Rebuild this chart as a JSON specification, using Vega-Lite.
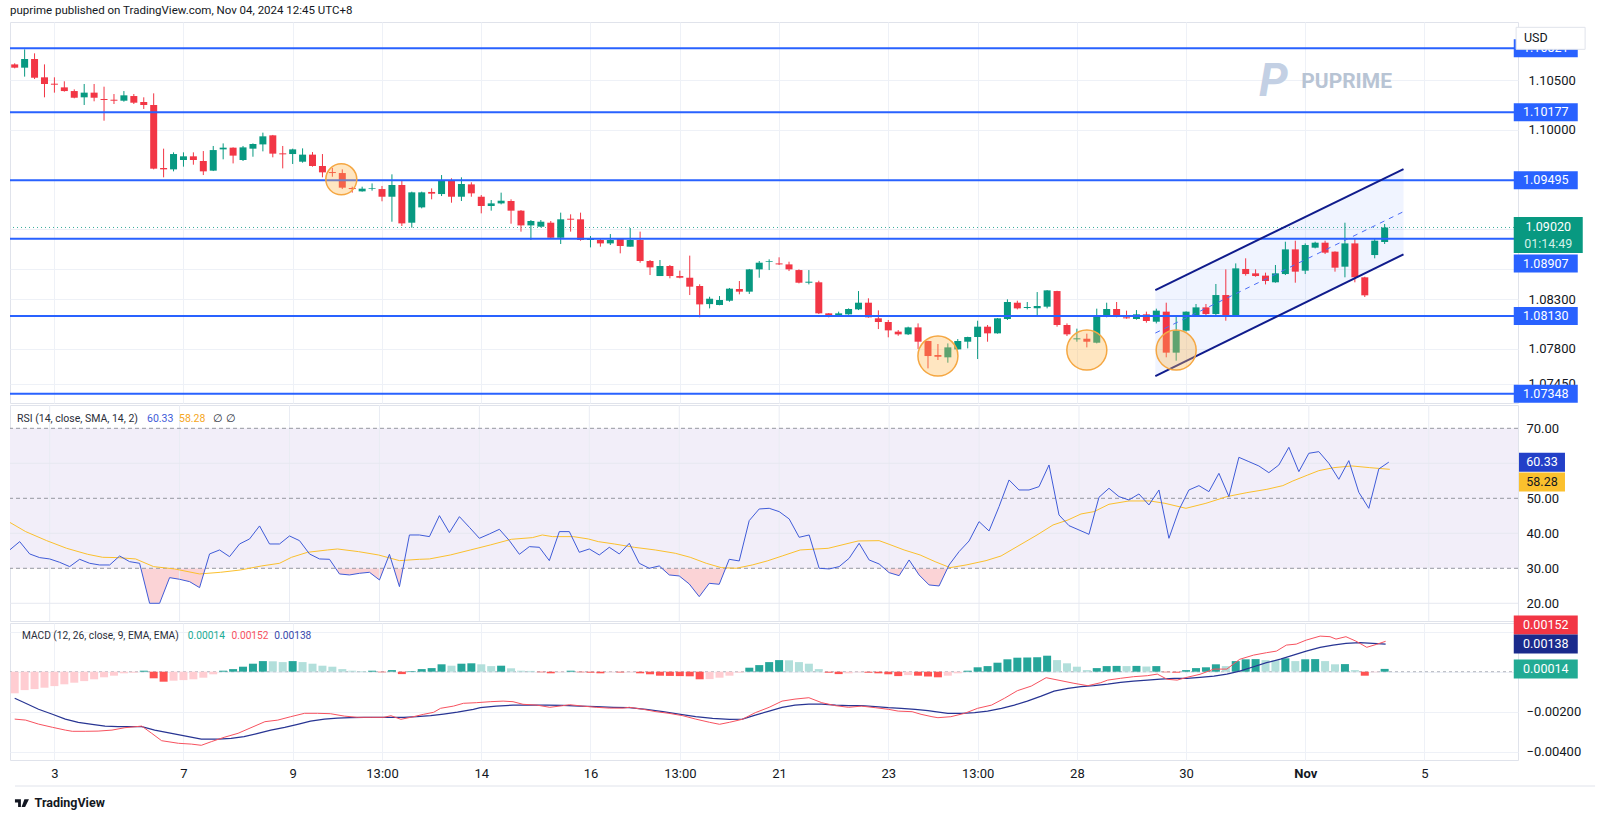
{
"$schema":"https://vega.github.io/schema/vega-lite/v6.json",
"background":"white",
"padding":{"left":8,"top":5,"right":0,"bottom":0},
"bounds":"flush",
"spacing":2,
"title":{"text":"puprime published on TradingView.com, Nov 04, 2024 12:45 UTC+8","anchor":"start","frame":"group","offset":5,"fontSize":11.5,"fontWeight":"normal","color":"#131722","font":"Roboto"},
"config":{"view":{"stroke":"#e0e3eb","strokeWidth":1},"font":"Roboto","axis":{"labelColor":"#131722","labelFont":"Roboto","labelFontSize":13,"gridColor":"#eef1f7","labelFlush":false,"labelOverlap":false,"labelBound":false},"text":{"font":"Roboto"}},
"datasets":{
"candles":[
{"k":0,"o":1.10659,"h":1.1067,"l":1.10619,"c":1.10626},
{"k":1,"o":1.10626,"h":1.1081,"l":1.10536,"c":1.10713},
{"k":2,"o":1.10713,"h":1.1077,"l":1.10512,"c":1.10525},
{"k":3,"o":1.10529,"h":1.10659,"l":1.10328,"c":1.10462},
{"k":4,"o":1.10465,"h":1.10529,"l":1.10375,"c":1.10455},
{"k":5,"o":1.10428,"h":1.10489,"l":1.10385,"c":1.10391},
{"k":6,"o":1.10391,"h":1.10408,"l":1.10318,"c":1.10324},
{"k":7,"o":1.10328,"h":1.10462,"l":1.10251,"c":1.10375},
{"k":8,"o":1.10375,"h":1.10462,"l":1.10288,"c":1.10324},
{"k":9,"o":1.10311,"h":1.10435,"l":1.10093,"c":1.10301},
{"k":10,"o":1.10304,"h":1.10361,"l":1.10261,"c":1.10294},
{"k":11,"o":1.10294,"h":1.10391,"l":1.10284,"c":1.10348},
{"k":12,"o":1.10341,"h":1.10361,"l":1.10261,"c":1.10274},
{"k":13,"o":1.10281,"h":1.10328,"l":1.10211,"c":1.10251},
{"k":14,"o":1.10251,"h":1.10368,"l":1.09604,"c":1.09611},
{"k":15,"o":1.09618,"h":1.09812,"l":1.09524,"c":1.09604},
{"k":16,"o":1.09604,"h":1.09775,"l":1.09584,"c":1.09758},
{"k":17,"o":1.09698,"h":1.09775,"l":1.09631,"c":1.09735},
{"k":18,"o":1.09735,"h":1.09775,"l":1.09651,"c":1.09698},
{"k":19,"o":1.09688,"h":1.09788,"l":1.09547,"c":1.09584},
{"k":20,"o":1.09591,"h":1.09839,"l":1.09587,"c":1.09798},
{"k":21,"o":1.09805,"h":1.09865,"l":1.09705,"c":1.09822},
{"k":22,"o":1.09822,"h":1.09825,"l":1.09664,"c":1.09742},
{"k":23,"o":1.09698,"h":1.09839,"l":1.09688,"c":1.09825},
{"k":24,"o":1.09812,"h":1.09865,"l":1.09731,"c":1.09859},
{"k":25,"o":1.09855,"h":1.09973,"l":1.09785,"c":1.09936},
{"k":26,"o":1.09946,"h":1.0995,"l":1.09725,"c":1.09762},
{"k":27,"o":1.09765,"h":1.09839,"l":1.09614,"c":1.09755},
{"k":28,"o":1.09758,"h":1.09812,"l":1.09658,"c":1.09805},
{"k":29,"o":1.09681,"h":1.09815,"l":1.09671,"c":1.09752},
{"k":30,"o":1.09752,"h":1.09778,"l":1.09631,"c":1.09638},
{"k":31,"o":1.09638,"h":1.09758,"l":1.09524,"c":1.09574},
{"k":32,"o":1.09577,"h":1.09618,"l":1.0953,"c":1.09567},
{"k":33,"o":1.09567,"h":1.09604,"l":1.09406,"c":1.0942},
{"k":34,"o":1.09417,"h":1.0943,"l":1.0937,"c":1.09406},
{"k":35,"o":1.09383,"h":1.0943,"l":1.0938,"c":1.0941},
{"k":36,"o":1.0941,"h":1.09463,"l":1.0939,"c":1.09417},
{"k":37,"o":1.09406,"h":1.09437,"l":1.09283,"c":1.09329},
{"k":38,"o":1.09329,"h":1.09554,"l":1.09078,"c":1.09447},
{"k":39,"o":1.09447,"h":1.09497,"l":1.09035,"c":1.09061},
{"k":40,"o":1.09068,"h":1.0938,"l":1.09018,"c":1.09373},
{"k":41,"o":1.09222,"h":1.0938,"l":1.09212,"c":1.09373},
{"k":42,"o":1.09377,"h":1.09413,"l":1.09303,"c":1.0936},
{"k":43,"o":1.09356,"h":1.09547,"l":1.09336,"c":1.09497},
{"k":44,"o":1.0949,"h":1.09514,"l":1.09269,"c":1.09329},
{"k":45,"o":1.09329,"h":1.09524,"l":1.09286,"c":1.09457},
{"k":46,"o":1.09453,"h":1.09474,"l":1.09329,"c":1.09363},
{"k":47,"o":1.09329,"h":1.09346,"l":1.09162,"c":1.09236},
{"k":48,"o":1.09236,"h":1.09296,"l":1.09189,"c":1.09262},
{"k":49,"o":1.09262,"h":1.0937,"l":1.09252,"c":1.09289},
{"k":50,"o":1.09286,"h":1.09303,"l":1.09058,"c":1.09189},
{"k":51,"o":1.09189,"h":1.09195,"l":1.08978,"c":1.09041},
{"k":52,"o":1.09041,"h":1.09095,"l":1.08894,"c":1.09085},
{"k":53,"o":1.09028,"h":1.09095,"l":1.09021,"c":1.09078},
{"k":54,"o":1.09068,"h":1.09085,"l":1.08912,"c":1.08917},
{"k":55,"o":1.08917,"h":1.09169,"l":1.08854,"c":1.09102},
{"k":56,"o":1.09108,"h":1.09152,"l":1.08978,"c":1.09098},
{"k":57,"o":1.09102,"h":1.09169,"l":1.08887,"c":1.08894},
{"k":58,"o":1.08894,"h":1.08934,"l":1.0882,"c":1.08907},
{"k":59,"o":1.08894,"h":1.08911,"l":1.08827,"c":1.0886},
{"k":60,"o":1.0886,"h":1.08954,"l":1.08844,"c":1.08894},
{"k":61,"o":1.08904,"h":1.08911,"l":1.0876,"c":1.08834},
{"k":62,"o":1.08827,"h":1.09015,"l":1.08827,"c":1.08894},
{"k":63,"o":1.08894,"h":1.08978,"l":1.08666,"c":1.08683},
{"k":64,"o":1.08683,"h":1.08693,"l":1.08542,"c":1.08619},
{"k":65,"o":1.08532,"h":1.08693,"l":1.08532,"c":1.08633},
{"k":66,"o":1.08633,"h":1.08643,"l":1.08509,"c":1.08532},
{"k":67,"o":1.08532,"h":1.08586,"l":1.08509,"c":1.08515},
{"k":68,"o":1.08515,"h":1.08737,"l":1.08341,"c":1.08425},
{"k":69,"o":1.08432,"h":1.08449,"l":1.08117,"c":1.08247},
{"k":70,"o":1.0825,"h":1.08324,"l":1.08207,"c":1.08304},
{"k":71,"o":1.08241,"h":1.08331,"l":1.08238,"c":1.08291},
{"k":72,"o":1.08284,"h":1.08412,"l":1.08274,"c":1.08405},
{"k":73,"o":1.08402,"h":1.08482,"l":1.08348,"c":1.08375},
{"k":74,"o":1.08375,"h":1.08603,"l":1.08352,"c":1.08599},
{"k":75,"o":1.08599,"h":1.08683,"l":1.08515,"c":1.08666},
{"k":76,"o":1.08676,"h":1.087,"l":1.08592,"c":1.08683},
{"k":77,"o":1.08659,"h":1.0872,"l":1.08643,"c":1.08649},
{"k":78,"o":1.08649,"h":1.08676,"l":1.08582,"c":1.08599},
{"k":79,"o":1.08592,"h":1.08599,"l":1.08458,"c":1.08465},
{"k":80,"o":1.08465,"h":1.08592,"l":1.08448,"c":1.08475},
{"k":81,"o":1.08469,"h":1.08485,"l":1.0815,"c":1.08157},
{"k":82,"o":1.08157,"h":1.0816,"l":1.08117,"c":1.0814},
{"k":83,"o":1.08134,"h":1.08174,"l":1.0813,"c":1.08157},
{"k":84,"o":1.08147,"h":1.08207,"l":1.08143,"c":1.08201},
{"k":85,"o":1.08197,"h":1.08381,"l":1.0819,"c":1.08264},
{"k":86,"o":1.08264,"h":1.08308,"l":1.08114,"c":1.08117},
{"k":87,"o":1.08107,"h":1.08187,"l":1.07999,"c":1.0807},
{"k":88,"o":1.0807,"h":1.0809,"l":1.07916,"c":1.07986},
{"k":89,"o":1.07973,"h":1.07989,"l":1.07932,"c":1.07946},
{"k":90,"o":1.07946,"h":1.08023,"l":1.07939,"c":1.08016},
{"k":91,"o":1.08016,"h":1.08056,"l":1.07799,"c":1.07872},
{"k":92,"o":1.07879,"h":1.07882,"l":1.07604,"c":1.07728},
{"k":93,"o":1.07738,"h":1.07849,"l":1.07688,"c":1.07721},
{"k":94,"o":1.07715,"h":1.07855,"l":1.07661,"c":1.07815},
{"k":95,"o":1.07795,"h":1.07899,"l":1.07792,"c":1.07879},
{"k":96,"o":1.07872,"h":1.07922,"l":1.07805,"c":1.07919},
{"k":97,"o":1.07919,"h":1.08083,"l":1.07698,"c":1.08023},
{"k":98,"o":1.08023,"h":1.0804,"l":1.07872,"c":1.07956},
{"k":99,"o":1.07956,"h":1.0811,"l":1.07953,"c":1.08107},
{"k":100,"o":1.081,"h":1.08298,"l":1.0809,"c":1.08271},
{"k":101,"o":1.08264,"h":1.08284,"l":1.08197,"c":1.08207},
{"k":102,"o":1.08211,"h":1.08271,"l":1.08197,"c":1.08221},
{"k":103,"o":1.08207,"h":1.08371,"l":1.0813,"c":1.08231},
{"k":104,"o":1.08224,"h":1.08391,"l":1.08207,"c":1.08388},
{"k":105,"o":1.08381,"h":1.08384,"l":1.08023,"c":1.0804},
{"k":106,"o":1.0804,"h":1.08056,"l":1.07929,"c":1.07946},
{"k":107,"o":1.07896,"h":1.08003,"l":1.07872,"c":1.07906},
{"k":108,"o":1.07902,"h":1.07953,"l":1.07815,"c":1.07872},
{"k":109,"o":1.07862,"h":1.08204,"l":1.07855,"c":1.08123},
{"k":110,"o":1.08123,"h":1.08264,"l":1.08117,"c":1.08201},
{"k":111,"o":1.08201,"h":1.08271,"l":1.08117,"c":1.08134},
{"k":112,"o":1.08117,"h":1.08184,"l":1.08103,"c":1.08107},
{"k":113,"o":1.081,"h":1.0819,"l":1.08093,"c":1.08147},
{"k":114,"o":1.08147,"h":1.08174,"l":1.08063,"c":1.0808},
{"k":115,"o":1.08073,"h":1.08204,"l":1.08056,"c":1.08184},
{"k":116,"o":1.08174,"h":1.08264,"l":1.07715,"c":1.07762},
{"k":117,"o":1.07762,"h":1.08123,"l":1.07681,"c":1.07983},
{"k":118,"o":1.07983,"h":1.08177,"l":1.07973,"c":1.08174},
{"k":119,"o":1.0813,"h":1.08251,"l":1.08123,"c":1.08217},
{"k":120,"o":1.08217,"h":1.08251,"l":1.0814,"c":1.0815},
{"k":121,"o":1.0815,"h":1.08452,"l":1.08123,"c":1.08341},
{"k":122,"o":1.08341,"h":1.08599,"l":1.08083,"c":1.0813},
{"k":123,"o":1.0813,"h":1.08659,"l":1.08123,"c":1.08609},
{"k":124,"o":1.08603,"h":1.0871,"l":1.08536,"c":1.08552},
{"k":125,"o":1.08559,"h":1.08599,"l":1.08525,"c":1.08532},
{"k":126,"o":1.08536,"h":1.08566,"l":1.08448,"c":1.08482},
{"k":127,"o":1.08469,"h":1.08643,"l":1.08465,"c":1.08559},
{"k":128,"o":1.08552,"h":1.08877,"l":1.08542,"c":1.088},
{"k":129,"o":1.088,"h":1.08887,"l":1.08465,"c":1.08576},
{"k":130,"o":1.08586,"h":1.0886,"l":1.08552,"c":1.08844},
{"k":131,"o":1.08817,"h":1.08877,"l":1.0881,"c":1.08867},
{"k":132,"o":1.08867,"h":1.08887,"l":1.08753,"c":1.08767},
{"k":133,"o":1.08777,"h":1.0878,"l":1.08576,"c":1.08616},
{"k":134,"o":1.08626,"h":1.09068,"l":1.08519,"c":1.0886},
{"k":135,"o":1.0886,"h":1.08911,"l":1.08469,"c":1.08519},
{"k":136,"o":1.08519,"h":1.08525,"l":1.08321,"c":1.08338},
{"k":137,"o":1.08743,"h":1.08911,"l":1.0871,"c":1.08887},
{"k":138,"o":1.08874,"h":1.09055,"l":1.08854,"c":1.0902}
],
"rsi":[
{"k":0,"v":35.24},{"k":1,"v":37.62},{"k":2,"v":34.1},{"k":3,"v":33.05},{"k":4,"v":32.67},{"k":5,"v":31.71},{"k":6,"v":30.48},{"k":7,"v":32.57},{"k":8,"v":31.43},{"k":9,"v":30.95},
{"k":10,"v":30.95},{"k":11,"v":33.52},{"k":12,"v":31.9},{"k":13,"v":31.43},{"k":14,"v":20.0},{"k":15,"v":20.0},{"k":16,"v":27.33},{"k":17,"v":26.86},{"k":18,"v":26.19},{"k":19,"v":24.48},
{"k":20,"v":34.1},{"k":21,"v":35.24},{"k":22,"v":33.33},{"k":23,"v":36.95},{"k":24,"v":38.38},{"k":25,"v":42.1},{"k":26,"v":36.95},{"k":27,"v":36.95},{"k":28,"v":39.24},{"k":29,"v":37.9},
{"k":30,"v":34.1},{"k":31,"v":32.67},{"k":32,"v":32.57},{"k":33,"v":28.38},{"k":34,"v":28.1},{"k":35,"v":28.57},{"k":36,"v":28.86},{"k":37,"v":26.67},{"k":38,"v":34.0},{"k":39,"v":24.76},
{"k":40,"v":39.52},{"k":41,"v":39.52},{"k":42,"v":39.05},{"k":43,"v":45.05},{"k":44,"v":40.19},{"k":45,"v":44.76},{"k":46,"v":41.71},{"k":47,"v":38.57},{"k":48,"v":39.81},{"k":49,"v":41.14},
{"k":50,"v":37.9},{"k":51,"v":34.0},{"k":52,"v":36.19},{"k":53,"v":36.0},{"k":54,"v":32.19},{"k":55,"v":40.48},{"k":56,"v":40.48},{"k":57,"v":34.57},{"k":58,"v":35.52},{"k":59,"v":33.81},
{"k":60,"v":36.0},{"k":61,"v":34.1},{"k":62,"v":37.14},{"k":63,"v":31.43},{"k":64,"v":30.0},{"k":65,"v":30.67},{"k":66,"v":28.1},{"k":67,"v":27.81},{"k":68,"v":25.52},{"k":69,"v":21.9},
{"k":70,"v":25.71},{"k":71,"v":25.43},{"k":72,"v":32.57},{"k":73,"v":32.1},{"k":74,"v":43.62},{"k":75,"v":46.95},{"k":76,"v":47.14},{"k":77,"v":46.19},{"k":78,"v":44.1},{"k":79,"v":38.86},
{"k":80,"v":39.52},{"k":81,"v":30.0},{"k":82,"v":29.81},{"k":83,"v":30.48},{"k":84,"v":32.86},{"k":85,"v":37.14},{"k":86,"v":32.38},{"k":87,"v":31.24},{"k":88,"v":28.76},{"k":89,"v":27.9},
{"k":90,"v":32.38},{"k":91,"v":28.1},{"k":92,"v":25.24},{"k":93,"v":24.95},{"k":94,"v":30.95},{"k":95,"v":34.76},{"k":96,"v":37.81},{"k":97,"v":43.33},{"k":98,"v":40.67},{"k":99,"v":47.62},
{"k":100,"v":55.24},{"k":101,"v":52.38},{"k":102,"v":52.38},{"k":103,"v":53.33},{"k":104,"v":59.52},{"k":105,"v":45.24},{"k":106,"v":42.19},{"k":107,"v":40.95},{"k":108,"v":39.71},{"k":109,"v":50.29},
{"k":110,"v":52.86},{"k":111,"v":50.48},{"k":112,"v":49.52},{"k":113,"v":51.24},{"k":114,"v":48.1},{"k":115,"v":52.38},{"k":116,"v":38.57},{"k":117,"v":46.67},{"k":118,"v":52.38},{"k":119,"v":53.62},
{"k":120,"v":51.9},{"k":121,"v":57.14},{"k":122,"v":50.48},{"k":123,"v":61.71},{"k":124,"v":60.48},{"k":125,"v":59.24},{"k":126,"v":57.33},{"k":127,"v":59.52},{"k":128,"v":64.57},{"k":129,"v":57.62},
{"k":130,"v":62.86},{"k":131,"v":63.33},{"k":132,"v":60.0},{"k":133,"v":55.43},{"k":134,"v":60.76},{"k":135,"v":51.71},{"k":136,"v":47.14},{"k":137,"v":58.38},{"k":138,"v":60.33}
],
"rsisma":[
{"k":0,"v":43.14},{"k":1.6,"v":40.48},{"k":3.7,"v":37.9},{"k":5.7,"v":35.71},{"k":7.8,"v":34.0},{"k":9.3,"v":33.14},{"k":10.8,"v":33.05},{"k":12.6,"v":32.67},{"k":14.4,"v":30.48},{"k":16.5,"v":29.81},
{"k":19.0,"v":28.38},{"k":21.1,"v":28.86},{"k":23.1,"v":29.52},{"k":25.2,"v":30.67},{"k":27.0,"v":31.43},{"k":28.2,"v":33.14},{"k":29.8,"v":34.57},{"k":31.8,"v":35.24},{"k":32.8,"v":35.52},{"k":34.9,"v":34.76},
{"k":36.9,"v":33.81},{"k":39.0,"v":32.19},{"k":41.0,"v":32.57},{"k":42.0,"v":32.67},{"k":44.1,"v":33.81},{"k":46.1,"v":35.24},{"k":48.1,"v":36.67},{"k":50.2,"v":38.29},{"k":52.3,"v":38.76},{"k":53.3,"v":39.52},
{"k":54.3,"v":39.05},{"k":56.4,"v":39.05},{"k":57.9,"v":38.38},{"k":58.9,"v":37.62},{"k":60.5,"v":36.95},{"k":62.5,"v":36.0},{"k":64.6,"v":35.24},{"k":66.6,"v":34.29},{"k":68.1,"v":33.14},{"k":69.7,"v":31.43},
{"k":71.2,"v":30.19},{"k":72.7,"v":30.0},{"k":74.3,"v":30.95},{"k":75.8,"v":32.1},{"k":77.3,"v":33.52},{"k":79.1,"v":35.24},{"k":81.9,"v":35.71},{"k":84.9,"v":37.81},{"k":87.0,"v":37.9},{"k":88.0,"v":36.86},
{"k":89.5,"v":35.24},{"k":91.1,"v":33.81},{"k":92.6,"v":31.9},{"k":94.1,"v":30.19},{"k":95.7,"v":30.95},{"k":97.7,"v":32.19},{"k":99.2,"v":33.52},{"k":100.8,"v":36.19},{"k":102.8,"v":39.52},{"k":104.4,"v":42.38},
{"k":105.9,"v":43.81},{"k":107.2,"v":45.52},{"k":108.5,"v":46.19},{"k":110.0,"v":48.29},{"k":112.0,"v":49.24},{"k":114.1,"v":49.24},{"k":115.6,"v":48.57},{"k":117.7,"v":47.14},{"k":119.7,"v":48.57},{"k":121.8,"v":50.48},
{"k":123.8,"v":51.62},{"k":125.8,"v":52.57},{"k":127.4,"v":53.62},{"k":128.4,"v":54.95},{"k":129.9,"v":56.67},{"k":131.0,"v":57.9},{"k":132.5,"v":58.76},{"k":134.3,"v":59.24},{"k":136.1,"v":58.76},{"k":138.1,"v":58.28}
],
"hist":[
{"k":0,"hv":-0.00108},{"k":1,"hv":-0.00092},{"k":2,"hv":-0.00087},{"k":3,"hv":-0.0008},{"k":4,"hv":-0.00072},{"k":5,"hv":-0.00063},{"k":6,"hv":-0.00055},{"k":7,"hv":-0.00047},{"k":8,"hv":-0.00038},{"k":9,"hv":-0.00028},
{"k":10,"hv":-0.0002},{"k":11,"hv":-0.00008},{"k":12,"hv":-0.00005},{"k":13,"hv":0.00005},{"k":14,"hv":-0.00033},{"k":15,"hv":-0.0005},{"k":16,"hv":-0.00045},{"k":17,"hv":-0.00042},{"k":18,"hv":-0.00038},{"k":19,"hv":-0.0003},
{"k":20,"hv":-0.00013},{"k":21,"hv":0.00005},{"k":22,"hv":0.00013},{"k":23,"hv":0.00025},{"k":24,"hv":0.0004},{"k":25,"hv":0.00053},{"k":26,"hv":0.00052},{"k":27,"hv":0.00048},{"k":28,"hv":0.00053},{"k":29,"hv":0.00048},
{"k":30,"hv":0.0004},{"k":31,"hv":0.0003},{"k":32,"hv":0.00025},{"k":33,"hv":0.00013},{"k":34,"hv":0.00005},{"k":35,"hv":0.00003},{"k":36,"hv":0.00005},{"k":37,"hv":-0.00003},{"k":38,"hv":0.00008},{"k":39,"hv":-0.00012},
{"k":40,"hv":0.00003},{"k":41,"hv":0.00013},{"k":42,"hv":0.00018},{"k":43,"hv":0.00037},{"k":44,"hv":0.0003},{"k":45,"hv":0.0004},{"k":46,"hv":0.00042},{"k":47,"hv":0.00037},{"k":48,"hv":0.00028},{"k":49,"hv":0.0003},
{"k":50,"hv":0.00017},{"k":51,"hv":0.00005},{"k":52,"hv":0.00004},{"k":53,"hv":-0.00003},{"k":54,"hv":-0.00008},{"k":55,"hv":-0.00003},{"k":56,"hv":0.00005},{"k":57,"hv":-0.00003},{"k":58,"hv":-0.00005},{"k":59,"hv":-0.00008},
{"k":60,"hv":-0.00003},{"k":61,"hv":-0.00004},{"k":62,"hv":-0.00003},{"k":63,"hv":-0.00008},{"k":64,"hv":-0.00013},{"k":65,"hv":-0.0002},{"k":66,"hv":-0.00021},{"k":67,"hv":-0.00022},{"k":68,"hv":-0.00023},{"k":69,"hv":-0.00038},
{"k":70,"hv":-0.00037},{"k":71,"hv":-0.0003},{"k":72,"hv":-0.0002},{"k":73,"hv":-0.00005},{"k":74,"hv":0.0002},{"k":75,"hv":0.00033},{"k":76,"hv":0.00048},{"k":77,"hv":0.00058},{"k":78,"hv":0.00057},{"k":79,"hv":0.00048},
{"k":80,"hv":0.0004},{"k":81,"hv":0.00013},{"k":82,"hv":-0.00005},{"k":83,"hv":-0.00012},{"k":84,"hv":-0.00008},{"k":85,"hv":-0.00003},{"k":86,"hv":-0.00005},{"k":87,"hv":-0.00008},{"k":88,"hv":-0.00013},{"k":89,"hv":-0.00022},
{"k":90,"hv":-0.00017},{"k":91,"hv":-0.0002},{"k":92,"hv":-0.00024},{"k":93,"hv":-0.00028},{"k":94,"hv":-0.0002},{"k":95,"hv":-0.00008},{"k":96,"hv":0.00005},{"k":97,"hv":0.00022},{"k":98,"hv":0.00028},{"k":99,"hv":0.00045},
{"k":100,"hv":0.00062},{"k":101,"hv":0.0007},{"k":102,"hv":0.00071},{"k":103,"hv":0.00072},{"k":104,"hv":0.0008},{"k":105,"hv":0.00058},{"k":106,"hv":0.00042},{"k":107,"hv":0.00025},{"k":108,"hv":0.00008},{"k":109,"hv":0.00018},
{"k":110,"hv":0.00028},{"k":111,"hv":0.00029},{"k":112,"hv":0.00028},{"k":113,"hv":0.00029},{"k":114,"hv":0.00026},{"k":115,"hv":0.00028},{"k":116,"hv":-0.00003},{"k":117,"hv":-0.00005},{"k":118,"hv":0.00008},{"k":119,"hv":0.00018},
{"k":120,"hv":0.00022},{"k":121,"hv":0.00037},{"k":122,"hv":0.00028},{"k":123,"hv":0.00053},{"k":124,"hv":0.00062},{"k":125,"hv":0.00063},{"k":126,"hv":0.00058},{"k":127,"hv":0.00057},{"k":128,"hv":0.00067},{"k":129,"hv":0.00053},
{"k":130,"hv":0.00062},{"k":131,"hv":0.00063},{"k":132,"hv":0.00053},{"k":133,"hv":0.00037},{"k":134,"hv":0.00038},{"k":135,"hv":0.00008},{"k":136,"hv":-0.0002},{"k":137,"hv":-0.00003},{"k":138,"hv":0.00014}
],
"macd":[
{"k":0,"v":-0.00237},{"k":1.1,"v":-0.00242},{"k":2.4,"v":-0.00262},{"k":3.8,"v":-0.00278},{"k":5.1,"v":-0.00292},{"k":5.8,"v":-0.00298},{"k":7.1,"v":-0.00298},{"k":8.4,"v":-0.00297},{"k":9.8,"v":-0.00292},{"k":11.1,"v":-0.0028},
{"k":12.8,"v":-0.00272},{"k":13.8,"v":-0.00308},{"k":14.8,"v":-0.00345},{"k":16.5,"v":-0.00358},{"k":17.8,"v":-0.00362},{"k":18.8,"v":-0.00368},{"k":19.8,"v":-0.0035},{"k":21.1,"v":-0.00328},{"k":22.5,"v":-0.00308},{"k":23.8,"v":-0.0028},
{"k":25.2,"v":-0.0025},{"k":26.5,"v":-0.00242},{"k":27.8,"v":-0.00225},{"k":29.2,"v":-0.00208},{"k":30.5,"v":-0.00208},{"k":31.8,"v":-0.0021},{"k":33.2,"v":-0.00222},{"k":34.5,"v":-0.00228},{"k":35.9,"v":-0.00228},{"k":37.2,"v":-0.00228},
{"k":37.9,"v":-0.0022},{"k":38.9,"v":-0.00238},{"k":39.9,"v":-0.00228},{"k":41.2,"v":-0.00213},{"k":42.2,"v":-0.00203},{"k":42.9,"v":-0.00183},{"k":44.2,"v":-0.00172},{"k":45.2,"v":-0.00158},{"k":46.5,"v":-0.00155},{"k":47.9,"v":-0.0015},
{"k":49.2,"v":-0.00147},{"k":50.2,"v":-0.0015},{"k":51.2,"v":-0.00163},{"k":52.6,"v":-0.00167},{"k":53.9,"v":-0.00178},{"k":55.2,"v":-0.0017},{"k":55.9,"v":-0.00165},{"k":57.2,"v":-0.00172},{"k":58.6,"v":-0.00178},{"k":59.9,"v":-0.00182},
{"k":61.3,"v":-0.00182},{"k":61.9,"v":-0.00178},{"k":63.3,"v":-0.00188},{"k":64.6,"v":-0.002},{"k":65.9,"v":-0.00208},{"k":67.3,"v":-0.0022},{"k":68.6,"v":-0.00237},{"k":70.0,"v":-0.00253},{"k":71.0,"v":-0.00263},{"k":72.0,"v":-0.00253},
{"k":73.3,"v":-0.00238},{"k":74.6,"v":-0.00205},{"k":76.0,"v":-0.00178},{"k":77.3,"v":-0.00147},{"k":78.6,"v":-0.00137},{"k":80.0,"v":-0.0013},{"k":81.3,"v":-0.00155},{"k":82.7,"v":-0.0017},{"k":84.0,"v":-0.00178},{"k":85.3,"v":-0.00172},
{"k":86.7,"v":-0.0018},{"k":88.0,"v":-0.00188},{"k":89.0,"v":-0.00197},{"k":90.4,"v":-0.002},{"k":91.3,"v":-0.00213},{"k":92.4,"v":-0.00225},{"k":93.0,"v":-0.0023},{"k":94.3,"v":-0.00225},{"k":95.7,"v":-0.00208},{"k":97.0,"v":-0.00183},
{"k":98.4,"v":-0.00167},{"k":99.7,"v":-0.00133},{"k":101.0,"v":-0.00095},{"k":102.4,"v":-0.00072},{"k":103.9,"v":-0.0003},{"k":105.4,"v":-0.00045},{"k":106.7,"v":-0.00058},{"k":108.1,"v":-0.0007},{"k":109.4,"v":-0.00055},{"k":110.1,"v":-0.00042},
{"k":111.4,"v":-0.00033},{"k":112.7,"v":-0.00025},{"k":114.1,"v":-0.0002},{"k":115.1,"v":-0.00012},{"k":116.1,"v":-0.00038},{"k":117.1,"v":-0.00042},{"k":118.1,"v":-0.00028},{"k":119.4,"v":-0.00013},{"k":120.8,"v":0.00013},{"k":122.1,"v":0.00013},
{"k":123.4,"v":0.00062},{"k":124.8,"v":0.00083},{"k":126.1,"v":0.00095},{"k":127.1,"v":0.00103},{"k":128.1,"v":0.00133},{"k":129.1,"v":0.00138},{"k":130.1,"v":0.00158},{"k":131.5,"v":0.00178},{"k":132.5,"v":0.00175},{"k":133.1,"v":0.00163},
{"k":134.1,"v":0.00175},{"k":135.1,"v":0.00153},{"k":136.2,"v":0.00122},{"k":137.2,"v":0.00137},{"k":138.1,"v":0.00152}
],
"signal":[
{"k":0,"v":-0.00133},{"k":1.1,"v":-0.00158},{"k":2.4,"v":-0.00188},{"k":3.8,"v":-0.00213},{"k":5.1,"v":-0.00237},{"k":6.4,"v":-0.00253},{"k":7.8,"v":-0.00263},{"k":9.1,"v":-0.00272},{"k":10.4,"v":-0.00275},{"k":11.8,"v":-0.00275},
{"k":12.8,"v":-0.00275},{"k":14.1,"v":-0.00292},{"k":15.8,"v":-0.00308},{"k":17.5,"v":-0.00325},{"k":18.8,"v":-0.00337},{"k":20.5,"v":-0.00337},{"k":21.8,"v":-0.00333},{"k":23.1,"v":-0.00325},{"k":24.5,"v":-0.00308},{"k":25.8,"v":-0.00292},
{"k":27.2,"v":-0.00278},{"k":28.5,"v":-0.00263},{"k":29.8,"v":-0.00247},{"k":31.2,"v":-0.00237},{"k":32.5,"v":-0.00232},{"k":33.8,"v":-0.0023},{"k":35.2,"v":-0.00228},{"k":36.5,"v":-0.00228},{"k":37.9,"v":-0.00228},{"k":39.2,"v":-0.00228},
{"k":40.5,"v":-0.00225},{"k":41.9,"v":-0.0022},{"k":43.2,"v":-0.00212},{"k":44.6,"v":-0.00202},{"k":46.2,"v":-0.00188},{"k":46.9,"v":-0.0018},{"k":48.5,"v":-0.00172},{"k":50.2,"v":-0.00167},{"k":51.9,"v":-0.00167},{"k":53.6,"v":-0.00167},
{"k":55.2,"v":-0.00168},{"k":56.9,"v":-0.00172},{"k":58.6,"v":-0.00175},{"k":60.3,"v":-0.00178},{"k":61.9,"v":-0.0018},{"k":63.6,"v":-0.00188},{"k":65.3,"v":-0.002},{"k":66.9,"v":-0.00212},{"k":68.6,"v":-0.00225},{"k":70.3,"v":-0.00233},
{"k":72.0,"v":-0.00238},{"k":73.3,"v":-0.00237},{"k":74.6,"v":-0.00217},{"k":76.0,"v":-0.00197},{"k":77.3,"v":-0.00178},{"k":78.6,"v":-0.00167},{"k":80.0,"v":-0.00162},{"k":81.3,"v":-0.00162},{"k":82.7,"v":-0.00167},{"k":84.0,"v":-0.0017},
{"k":85.3,"v":-0.0017},{"k":86.7,"v":-0.00175},{"k":88.0,"v":-0.0018},{"k":89.3,"v":-0.00183},{"k":90.7,"v":-0.00188},{"k":92.0,"v":-0.00195},{"k":92.7,"v":-0.002},{"k":94.0,"v":-0.00208},{"k":95.4,"v":-0.00208},{"k":96.7,"v":-0.00205},
{"k":98.0,"v":-0.00197},{"k":99.4,"v":-0.00183},{"k":100.7,"v":-0.00167},{"k":102.0,"v":-0.00147},{"k":103.4,"v":-0.00122},{"k":104.7,"v":-0.00097},{"k":106.1,"v":-0.00083},{"k":107.4,"v":-0.00075},{"k":108.7,"v":-0.0007},{"k":110.1,"v":-0.00062},
{"k":111.4,"v":-0.00053},{"k":112.7,"v":-0.00047},{"k":114.1,"v":-0.00042},{"k":115.4,"v":-0.00037},{"k":116.8,"v":-0.00033},{"k":118.1,"v":-0.00033},{"k":119.4,"v":-0.00028},{"k":120.8,"v":-0.00022},{"k":122.1,"v":-0.00012},{"k":123.4,"v":0.00003},
{"k":124.8,"v":0.00025},{"k":126.1,"v":0.00045},{"k":127.5,"v":0.00063},{"k":128.8,"v":0.00083},{"k":130.1,"v":0.00103},{"k":131.5,"v":0.00122},{"k":132.8,"v":0.00133},{"k":134.1,"v":0.00142},{"k":135.5,"v":0.00145},{"k":136.8,"v":0.00142},{"k":138.1,"v":0.00138}
],
"levels":[{"p":1.10821},{"p":1.10177},{"p":1.09495},{"p":1.08907},{"p":1.0813},{"p":1.07348}],
"channel":[{"k":114.9,"up":1.08391,"lo":1.07527,"mid":1.07959},{"k":139.9,"up":1.09607,"lo":1.0875,"mid":1.09179}],
"circlesS":[{"k":32.9,"p":1.09504}],
"circlesL":[{"k":93.0,"p":1.07728},{"k":108.0,"p":1.07788},{"k":117.0,"p":1.07788}],
"vgrid":[{"k":4},{"k":17},{"k":28},{"k":37},{"k":47},{"k":58},{"k":67},{"k":77},{"k":88},{"k":97},{"k":107},{"k":118},{"k":130},{"k":142}]
},
"vconcat":[
{
"width":1508,"height":381,
"layer":[
{"data":{"values":[{}]},"mark":{"type":"text","text":"P","fontSize":46,"fontWeight":"bold","fontStyle":"italic","color":"#c3d0e4","align":"center","baseline":"middle"},
 "encoding":{"x":{"datum":126.8,"type":"quantitative","scale":{"domain":[0.03,150.93],"nice":false,"zero":false},"axis":{"values":[4,17,28,37,47,58,67,77,88,97,107,118,130,142],"labels":false,"ticks":false,"domain":false,"grid":true,"title":null}},
 "y":{"datum":1.10482,"type":"quantitative","scale":{"domain":[1.07256,1.11085],"nice":false,"zero":false},"axis":{"orient":"right","values":[1.105,1.1,1.095,1.09,1.086,1.083,1.078,1.0745],"format":".5f","labelExpr":"datum.value==1.095||datum.value==1.09||datum.value==1.086?'':datum.label","title":null,"grid":true,"ticks":false,"domain":false,"labelPadding":10}}}},
{"data":{"values":[{}]},"mark":{"type":"text","text":"PUPRIME","fontSize":21,"fontWeight":"bold","color":"#b8c4d4","align":"left","baseline":"middle"},
 "encoding":{"x":{"datum":129.6,"type":"quantitative"},"y":{"datum":1.10482,"type":"quantitative"}}},
{"data":{"name":"channel"},"mark":{"type":"area","color":"#2962ff","opacity":0.07},
 "encoding":{"x":{"field":"k","type":"quantitative"},"y":{"field":"up","type":"quantitative"},"y2":{"field":"lo"}}},
{"data":{"values":[{}]},"mark":{"type":"rule","color":"#089981","strokeDash":[1,3],"opacity":0.8},
 "encoding":{"y":{"datum":1.0902,"type":"quantitative"}}},
{"data":{"name":"candles"},"mark":{"type":"rule","clip":true,"strokeWidth":1},
 "encoding":{"x":{"field":"k","type":"quantitative"},"y":{"field":"l","type":"quantitative"},"y2":{"field":"h"},
 "color":{"condition":{"test":"datum.c >= datum.o","value":"#089981"},"value":"#f23645"}}},
{"data":{"name":"candles"},"mark":{"type":"bar","clip":true,"width":7},
 "encoding":{"x":{"field":"k","type":"quantitative"},"y":{"field":"o","type":"quantitative"},"y2":{"field":"c"},
 "color":{"condition":{"test":"datum.c >= datum.o","value":"#089981"},"value":"#f23645"}}},
{"data":{"name":"levels"},"mark":{"type":"rule","color":"#2962ff","strokeWidth":2},
 "encoding":{"y":{"field":"p","type":"quantitative"}}},
{"data":{"name":"channel"},"mark":{"type":"line","color":"#101c8c","strokeWidth":2},
 "encoding":{"x":{"field":"k","type":"quantitative"},"y":{"field":"up","type":"quantitative"}}},
{"data":{"name":"channel"},"mark":{"type":"line","color":"#101c8c","strokeWidth":2},
 "encoding":{"x":{"field":"k","type":"quantitative"},"y":{"field":"lo","type":"quantitative"}}},
{"data":{"name":"channel"},"mark":{"type":"line","color":"#4a6cf7","strokeWidth":1,"strokeDash":[5,5]},
 "encoding":{"x":{"field":"k","type":"quantitative"},"y":{"field":"mid","type":"quantitative"}}},
{"data":{"name":"circlesS"},"mark":{"type":"point","shape":"circle","filled":true,"fill":"#ffb74d","fillOpacity":0.35,"stroke":"#f5a742","strokeWidth":1.5,"strokeOpacity":1,"size":961},
 "encoding":{"x":{"field":"k","type":"quantitative"},"y":{"field":"p","type":"quantitative"}}},
{"data":{"name":"circlesL"},"mark":{"type":"point","shape":"circle","filled":true,"fill":"#ffb74d","fillOpacity":0.35,"stroke":"#f5a742","strokeWidth":1.5,"strokeOpacity":1,"size":1600},
 "encoding":{"x":{"field":"k","type":"quantitative"},"y":{"field":"p","type":"quantitative"}}},
{"data":{"name":"levels"},"transform":[{"filter":"datum.p != 1.08907"}],"mark":{"type":"point","shape":"M-1,-0.28125H1V0.28125H-1Z","size":4096,"filled":true,"fill":"#2962ff","opacity":1,"strokeWidth":0},
 "encoding":{"x":{"datum":154.23,"type":"quantitative"},"y":{"field":"p","type":"quantitative"}}},
{"data":{"name":"levels"},"transform":[{"filter":"datum.p != 1.08907"}],"mark":{"type":"text","color":"white","fontSize":12.5,"align":"center","baseline":"middle"},
 "encoding":{"x":{"datum":154.23,"type":"quantitative"},"y":{"field":"p","type":"quantitative"},"text":{"field":"p","type":"quantitative","format":".5f"}}},
{"data":{"values":[{"p":1.08907}]},"mark":{"type":"point","shape":"M-1,-0.28125H1V0.28125H-1Z","size":4096,"filled":true,"fill":"#2962ff","opacity":1,"strokeWidth":0},
 "encoding":{"x":{"datum":154.23,"type":"quantitative"},"y":{"datum":1.08657,"type":"quantitative"}}},
{"data":{"values":[{"p":1.08907}]},"mark":{"type":"text","color":"white","fontSize":12.5,"align":"center","baseline":"middle"},
 "encoding":{"x":{"datum":154.23,"type":"quantitative"},"y":{"datum":1.08657,"type":"quantitative"},"text":{"field":"p","type":"quantitative","format":".5f"}}},
{"data":{"values":[{}]},"mark":{"type":"point","shape":"M-1,-0.52H1V0.52H-1Z","size":4761,"filled":true,"fill":"#089981","opacity":1,"strokeWidth":0},
 "encoding":{"x":{"datum":154.48,"type":"quantitative"},"y":{"datum":1.08944,"type":"quantitative"}}},
{"data":{"values":[{"p":1.0902}]},"mark":{"type":"text","color":"white","fontSize":12.5,"align":"center","baseline":"middle"},
 "encoding":{"x":{"datum":154.48,"type":"quantitative"},"y":{"field":"p","type":"quantitative"},"text":{"field":"p","type":"quantitative","format":".5f"}}},
{"data":{"values":[{}]},"mark":{"type":"text","text":"01:14:49","color":"#d2f0e8","fontSize":12.5,"align":"center","baseline":"middle"},
 "encoding":{"x":{"datum":154.48,"type":"quantitative"},"y":{"datum":1.08854,"type":"quantitative"}}},
{"data":{"values":[{}]},"mark":{"type":"point","shape":"M-1,-0.319H1V0.319H-1Z","size":4761,"filled":true,"fill":"white","opacity":1,"stroke":"#e0e3eb","strokeWidth":1},
 "encoding":{"x":{"datum":154.72,"type":"quantitative"},"y":{"datum":1.10921,"type":"quantitative"}}},
{"data":{"values":[{}]},"mark":{"type":"text","text":"USD","color":"#131722","fontSize":12.5,"align":"left","baseline":"middle"},
 "encoding":{"x":{"datum":152.03,"type":"quantitative"},"y":{"datum":1.10921,"type":"quantitative"}}}
]
},
{
"width":1508,"height":216,
"layer":[
{"data":{"name":"rsi"},"mark":{"type":"area","color":"#fbd3d6","clip":true},
 "encoding":{"x":{"field":"k","type":"quantitative","scale":{"domain":[0.03,150.93],"nice":false,"zero":false},"axis":{"labels":false,"ticks":false,"domain":false,"grid":false,"title":null}},
 "y":{"field":"v","type":"quantitative","scale":{"domain":[14.94,76.66],"nice":false,"zero":false},"axis":{"orient":"right","values":[20,30,40,50,60,70],"format":".2f","labelExpr":"datum.value==60?'':datum.label","title":null,"grid":false,"ticks":false,"domain":false,"labelPadding":8}},
 "y2":{"datum":30}}},
{"data":{"values":[{}]},"mark":{"type":"rect","color":"#f2eef9"},
 "encoding":{"y":{"datum":70,"type":"quantitative"},"y2":{"datum":30}}},
{"data":{"name":"vgrid"},"mark":{"type":"rule","color":"#e9ecf3"},
 "encoding":{"x":{"field":"k","type":"quantitative"}}},
{"data":{"values":[{"g":20},{"g":40},{"g":60}]},"mark":{"type":"rule","color":"#e6e8f0"},
 "encoding":{"y":{"field":"g","type":"quantitative"}}},
{"data":{"values":[{"g":30},{"g":50},{"g":70}]},"mark":{"type":"rule","color":"#9598a1","strokeDash":[4,3]},
 "encoding":{"y":{"field":"g","type":"quantitative"}}},
{"data":{"name":"rsisma"},"mark":{"type":"line","color":"#fbc02d","strokeWidth":1,"clip":true},
 "encoding":{"x":{"field":"k","type":"quantitative"},"y":{"field":"v","type":"quantitative"}}},
{"data":{"name":"rsi"},"mark":{"type":"line","color":"#3f5bd8","strokeWidth":1,"clip":true},
 "encoding":{"x":{"field":"k","type":"quantitative"},"y":{"field":"v","type":"quantitative"}}},
{"data":{"values":[{}]},"mark":{"type":"text","text":"RSI (14, close, SMA, 14, 2)","color":"#2a2e39","fontSize":10.5,"align":"left","baseline":"middle"},
 "encoding":{"x":{"datum":0.73,"type":"quantitative"},"y":{"datum":72.66,"type":"quantitative"}}},
{"data":{"values":[{}]},"mark":{"type":"text","text":"60.33","color":"#3f5bd8","fontSize":10.5,"align":"left","baseline":"middle"},
 "encoding":{"x":{"datum":13.74,"type":"quantitative"},"y":{"datum":72.66,"type":"quantitative"}}},
{"data":{"values":[{}]},"mark":{"type":"text","text":"58.28","color":"#f5a623","fontSize":10.5,"align":"left","baseline":"middle"},
 "encoding":{"x":{"datum":16.94,"type":"quantitative"},"y":{"datum":72.66,"type":"quantitative"}}},
{"data":{"values":[{}]},"mark":{"type":"text","text":"∅  ∅","color":"#2a2e39","fontSize":10.5,"align":"left","baseline":"middle"},
 "encoding":{"x":{"datum":20.34,"type":"quantitative"},"y":{"datum":72.66,"type":"quantitative"}}},
{"data":{"values":[{"v":60.33}]},"mark":{"type":"point","shape":"M-1,-0.413H1V0.413H-1Z","size":2116,"filled":true,"fill":"#2340c8","opacity":1,"strokeWidth":0},
 "encoding":{"x":{"datum":153.33,"type":"quantitative"},"y":{"field":"v","type":"quantitative"}}},
{"data":{"values":[{"v":60.33}]},"mark":{"type":"text","color":"white","fontSize":12.5,"align":"center","baseline":"middle"},
 "encoding":{"x":{"datum":153.33,"type":"quantitative"},"y":{"field":"v","type":"quantitative"},"text":{"field":"v","type":"quantitative","format":".2f"}}},
{"data":{"values":[{"v":58.28}]},"mark":{"type":"point","shape":"M-1,-0.413H1V0.413H-1Z","size":2116,"filled":true,"fill":"#fbc02d","opacity":1,"strokeWidth":0},
 "encoding":{"x":{"datum":153.33,"type":"quantitative"},"y":{"datum":54.66,"type":"quantitative"}}},
{"data":{"values":[{"v":58.28}]},"mark":{"type":"text","color":"#131722","fontSize":12.5,"align":"center","baseline":"middle"},
 "encoding":{"x":{"datum":153.33,"type":"quantitative"},"y":{"datum":54.66,"type":"quantitative"},"text":{"field":"v","type":"quantitative","format":".2f"}}}
]
},
{
"width":1508,"height":137,
"layer":[
{"data":{"values":[{}]},"mark":{"type":"rule","color":"#b2b5be","strokeDash":[3,3]},
 "encoding":{"y":{"datum":0,"type":"quantitative","scale":{"domain":[-0.004415,0.002435],"nice":false,"zero":false},"axis":{"orient":"right","values":[0.002,0,-0.002,-0.004],"format":".5f","labelExpr":"datum.value>=0?'':datum.label","title":null,"grid":true,"ticks":false,"domain":false,"labelPadding":8}}}},
{"data":{"name":"hist"},"transform":[{"window":[{"op":"lag","field":"hv","as":"prev"}],"sort":[{"field":"k"}]}],
 "mark":{"type":"bar","width":8,"clip":true},
 "encoding":{"x":{"field":"k","type":"quantitative","scale":{"domain":[0.03,150.93],"nice":false,"zero":false},
  "axis":{"values":[4,17,28,37,47,58,67,77,88,97,107,118,130,142],"title":null,"ticks":false,"domain":false,"grid":true,"labelPadding":7,
   "labelExpr":"datum.value==4?'3':datum.value==17?'7':datum.value==28?'9':datum.value==37?'13:00':datum.value==47?'14':datum.value==58?'16':datum.value==67?'13:00':datum.value==77?'21':datum.value==88?'23':datum.value==97?'13:00':datum.value==107?'28':datum.value==118?'30':datum.value==130?'Nov':datum.value==142?'5':''",
   "labelFontWeight":{"condition":{"test":"datum.value == 130","value":"bold"},"value":"normal"}}},
 "y":{"field":"hv","type":"quantitative"},"y2":{"datum":0},
 "color":{"condition":[{"test":"datum.hv >= 0 && (datum.prev == null || datum.hv >= datum.prev)","value":"#26a69a"},{"test":"datum.hv >= 0","value":"#b2dfdb"},{"test":"datum.prev != null && datum.hv < datum.prev","value":"#ff5252"}],"value":"#ffcdd2"}}},
{"data":{"name":"signal"},"mark":{"type":"line","color":"#283593","strokeWidth":1.2,"clip":true},
 "encoding":{"x":{"field":"k","type":"quantitative"},"y":{"field":"v","type":"quantitative"}}},
{"data":{"name":"macd"},"mark":{"type":"line","color":"#f7525f","strokeWidth":1,"clip":true},
 "encoding":{"x":{"field":"k","type":"quantitative"},"y":{"field":"v","type":"quantitative"}}},
{"data":{"values":[{}]},"mark":{"type":"text","text":"MACD (12, 26, close, 9, EMA, EMA)","color":"#2a2e39","fontSize":10.2,"align":"left","baseline":"middle"},
 "encoding":{"x":{"datum":0.73,"type":"quantitative"},"y":{"datum":0.0018,"type":"quantitative"}}},
{"data":{"values":[{}]},"mark":{"type":"text","text":"0.00014","color":"#22ab94","fontSize":10.2,"align":"left","baseline":"middle"},
 "encoding":{"x":{"datum":17.44,"type":"quantitative"},"y":{"datum":0.0018,"type":"quantitative"}}},
{"data":{"values":[{}]},"mark":{"type":"text","text":"0.00152","color":"#f7525f","fontSize":10.2,"align":"left","baseline":"middle"},
 "encoding":{"x":{"datum":21.84,"type":"quantitative"},"y":{"datum":0.0018,"type":"quantitative"}}},
{"data":{"values":[{}]},"mark":{"type":"text","text":"0.00138","color":"#3949ab","fontSize":10.2,"align":"left","baseline":"middle"},
 "encoding":{"x":{"datum":26.15,"type":"quantitative"},"y":{"datum":0.0018,"type":"quantitative"}}},
{"data":{"values":[{"v":0.00152}]},"mark":{"type":"point","shape":"M-1,-0.297H1V0.297H-1Z","size":4096,"filled":true,"fill":"#f23645","opacity":1,"strokeWidth":0},
 "encoding":{"x":{"datum":154.23,"type":"quantitative"},"y":{"datum":0.002335,"type":"quantitative"}}},
{"data":{"values":[{"v":0.00152}]},"mark":{"type":"text","color":"white","fontSize":12.5,"align":"center","baseline":"middle"},
 "encoding":{"x":{"datum":154.23,"type":"quantitative"},"y":{"datum":0.002335,"type":"quantitative"},"text":{"field":"v","type":"quantitative","format":".5f"}}},
{"data":{"values":[{"v":0.00138}]},"mark":{"type":"point","shape":"M-1,-0.297H1V0.297H-1Z","size":4096,"filled":true,"fill":"#1a2a8c","opacity":1,"strokeWidth":0},
 "encoding":{"x":{"datum":154.23,"type":"quantitative"},"y":{"field":"v","type":"quantitative"}}},
{"data":{"values":[{"v":0.00138}]},"mark":{"type":"text","color":"white","fontSize":12.5,"align":"center","baseline":"middle"},
 "encoding":{"x":{"datum":154.23,"type":"quantitative"},"y":{"field":"v","type":"quantitative"},"text":{"field":"v","type":"quantitative","format":".5f"}}},
{"data":{"values":[{"v":0.00014}]},"mark":{"type":"point","shape":"M-1,-0.297H1V0.297H-1Z","size":4096,"filled":true,"fill":"#22ab94","opacity":1,"strokeWidth":0},
 "encoding":{"x":{"datum":154.23,"type":"quantitative"},"y":{"field":"v","type":"quantitative"}}},
{"data":{"values":[{"v":0.00014}]},"mark":{"type":"text","color":"white","fontSize":12.5,"align":"center","baseline":"middle"},
 "encoding":{"x":{"datum":154.23,"type":"quantitative"},"y":{"field":"v","type":"quantitative"},"text":{"field":"v","type":"quantitative","format":".5f"}}},
{"data":{"values":[{}]},"mark":{"type":"rule","color":"#e0e3eb"},
 "encoding":{"x":{"datum":0.03,"type":"quantitative"},"x2":{"datum":159.2},"y":{"datum":-0.005715,"type":"quantitative"}}},
{"data":{"values":[{}]},"mark":{"type":"point","shape":"M-1,-0.55H-0.15V0.55H-0.55V-0.1H-1Z M0.35,-0.55H1L0.45,0.55H-0.05Z","size":196,"filled":true,"fill":"#131722","opacity":1,"strokeWidth":0},
 "encoding":{"x":{"datum":0.73,"type":"quantitative"},"y":{"datum":-0.00657,"type":"quantitative"}}},
{"data":{"values":[{}]},"mark":{"type":"text","text":"TradingView","color":"#131722","fontSize":12.5,"fontWeight":"bold","align":"left","baseline":"middle"},
 "encoding":{"x":{"datum":2.0,"type":"quantitative"},"y":{"datum":-0.00657,"type":"quantitative"}}}
]
}
]
}
